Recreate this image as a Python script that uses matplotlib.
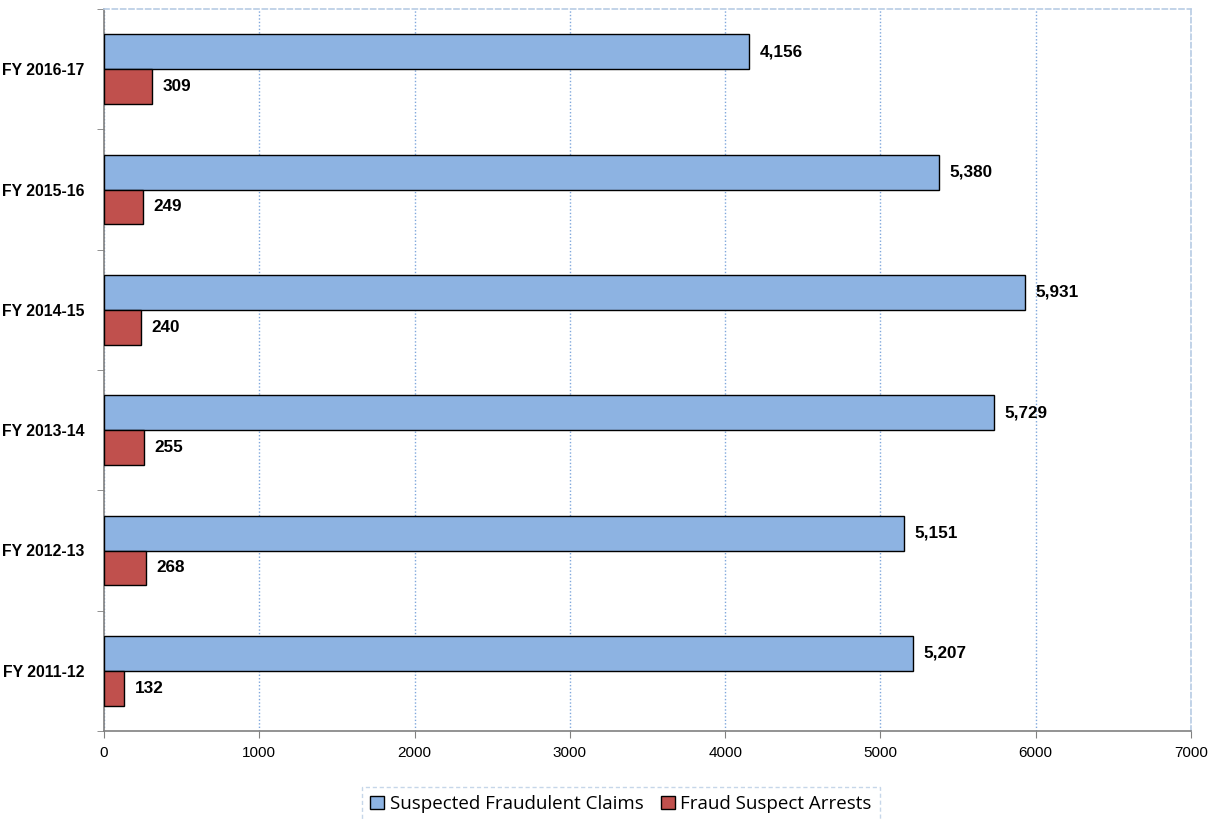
import matplotlib
matplotlib.use("Agg")
import matplotlib.pyplot as plt
import numpy as np
from matplotlib.patches import Patch

categories = ["FY 2011-12", "FY 2012-13", "FY 2013-14", "FY 2014-15", "FY 2015-16", "FY 2016-17"]
claims = [5207, 5151, 5729, 5931, 5380, 4156]
arrests = [132, 268, 255, 240, 249, 309]
xticks = [0, 1000, 2000, 3000, 4000, 5000, 6000, 7000]

narrow = ["Liberation Sans Narrow", "Liberation Sans", "DejaVu Sans"]

fig = plt.figure(figsize=(12.14, 8.19), dpi=100)
ax = fig.add_axes([104/1214, 1-731/819, (1191-104)/1214, (731-9)/819])

y = np.arange(len(categories))
h = 0.29
blue = "#8DB3E2"
red = "#C0504D"
ax.barh(y + h/2, claims, height=h, color=blue, edgecolor="black", linewidth=1, zorder=3)
ax.barh(y - h/2, arrests, height=h, color=red, edgecolor="black", linewidth=1, zorder=3)

for yi, v in zip(y, claims):
    ax.annotate(f"{v:,}", (v, yi + h/2), xytext=(7.5, 0), textcoords="offset points",
                va="center", ha="left", fontsize=12.3, fontweight="bold", family=narrow)
for yi, v in zip(y, arrests):
    ax.annotate(f"{v:,}", (v, yi - h/2), xytext=(7.5, 0), textcoords="offset points",
                va="center", ha="left", fontsize=12.3, fontweight="bold", family=narrow)

ax.set_xlim(0, 7000)
ax.set_ylim(-0.5, len(categories) - 0.5)
ax.set_xticks(xticks)
ax.set_xticklabels([str(t) for t in xticks], family=narrow, fontsize=11)
ax.set_yticks(y)
ax.set_yticklabels(categories, family=narrow, fontsize=11.3, fontweight="bold")
ax.set_yticks(np.arange(-0.5, len(categories), 1.0), minor=True)
ax.tick_params(axis="y", which="major", length=0, pad=14)
ax.tick_params(axis="y", which="minor", length=5, color="#808080", direction="out")
ax.tick_params(axis="x", which="major", length=5, color="#808080", direction="out", pad=6)

ax.grid(axis="x", color="#7FA7DC", linestyle=(0, (1, 1.5)), linewidth=1, zorder=0)
ax.set_axisbelow(True)
for s in ["top", "right"]:
    ax.spines[s].set_color("#B8CCE4")
    ax.spines[s].set_linestyle((0, (3, 2)))
    ax.spines[s].set_linewidth(1.2)
for s in ["left", "bottom"]:
    ax.spines[s].set_color("#808080")
    ax.spines[s].set_linewidth(1.2)

handles = [Patch(facecolor=blue, edgecolor="black", label="Suspected Fraudulent Claims"),
           Patch(facecolor=red, edgecolor="black", label="Fraud Suspect Arrests")]
leg = fig.legend(handles=handles, loc="center", bbox_to_anchor=(621/1214, 1-804/819), ncol=2,
                 frameon=True, fancybox=False, prop={"family": ["Open Sans", "DejaVu Sans"], "size": 13.5},
                 handlelength=0.75, handleheight=0.75, handletextpad=0.3, columnspacing=0.9,
                 borderpad=0.45, borderaxespad=0)
fr = leg.get_frame()
fr.set_edgecolor("#B8CCE4")
fr.set_linestyle((0, (3, 2)))
fr.set_linewidth(1.0)

fig.savefig("out.png", dpi=100)
